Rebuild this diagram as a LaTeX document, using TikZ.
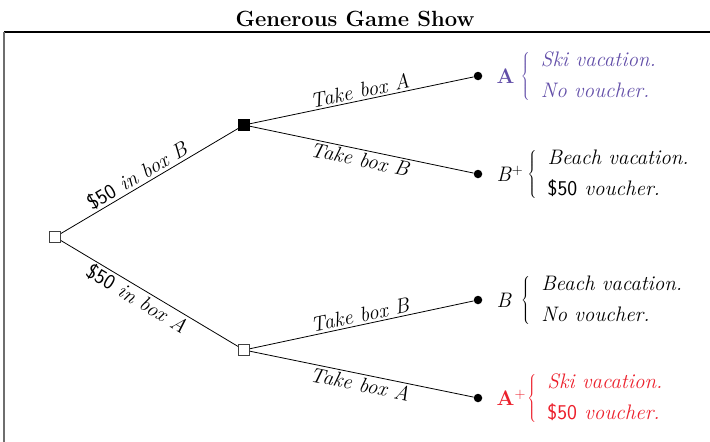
\documentclass[tikz,border=0pt]{standalone}
\usepackage{tikz}
\usetikzlibrary{positioning}
\definecolor{mypurple}{RGB}{98,78,168}
\definecolor{myred}{RGB}{236,32,44}
\definecolor{myframe}{RGB}{110,110,110}
\tikzset{
  opensq/.style={rectangle, draw=black!75, fill=white, minimum size=11pt,
    inner sep=0pt, line width=1pt},
  fullsq/.style={rectangle, draw=black, fill=black, minimum size=11pt,
    inner sep=0pt},
  leaf/.style={circle, fill=black, minimum size=8.5pt, inner sep=0pt},
  branch/.style={line width=0.8pt},
  blabel/.style={font=\fontsize{21}{24}\selectfont\itshape, inner sep=2pt},
  tag/.style={font=\fontsize{21}{24}\selectfont, inner sep=0pt, anchor=west},
  outcome/.style={font=\fontsize{21}{31}\selectfont\itshape, inner sep=0pt, anchor=west}
}
\newcommand{\prize}[2]{$\left\{\vrule height 31pt depth 21pt width 0pt\right.$\begin{tabular}{@{\hspace{10pt}}l@{}}#1\\#2\end{tabular}}
\newcommand{\fifty}{\textsf{\upshape\$50}}

\begin{document}
\begin{tikzpicture}[x=1pt, y=-1pt]
  \useasboundingbox (0,0) rectangle (710,442);
  % ── Title and frame ─────────────────────────────────────────────────────
  \node[font=\fontsize{22}{24}\selectfont\bfseries] (title) at (355,19) {Generous Game Show};
  \draw[line width=1.3pt] (4,32) -- (712,32);
  \draw[line width=1.3pt, color=myframe] (4,32) -- (4,444);

  % ── Decision nodes ──────────────────────────────────────────────────────
  \node[opensq] (root) at (55,237) {};
  \node[fullsq] (up) at (244,125) {};
  \node[opensq] (down) at (244,350) {};

  % ── End points ──────────────────────────────────────────────────────────
  \node[leaf] (aa) at (478,76) {};
  \node[leaf] (bp) at (478,174) {};
  \node[leaf] (bb) at (478,300) {};
  \node[leaf] (ap) at (478,398) {};

  % ── Branches ────────────────────────────────────────────────────────────
  \draw[branch] (root) -- node[blabel, pos=0.46, above, sloped] {\fifty{} in box B} (up);
  \draw[branch] (root) -- node[blabel, pos=0.46, below, sloped] {\fifty{} in box A} (down);
  \draw[branch] (up) -- node[blabel, midway, above, sloped] {Take box A} (aa);
  \draw[branch] (up) -- node[blabel, midway, below, sloped] {Take box B} (bp);
  \draw[branch] (down) -- node[blabel, midway, above, sloped] {Take box B} (bb);
  \draw[branch] (down) -- node[blabel, midway, below, sloped] {Take box A} (ap);

  % ── Outcome tags ────────────────────────────────────────────────────────
  \node[tag, text=mypurple, right=14pt of aa] (taa) {\textbf{A}};
  \node[tag, right=14pt of bp] (tbp) {\textit{B}$^{+}$};
  \node[tag, right=14pt of bb] (tbb) {\textit{B}};
  \node[tag, text=myred, right=14pt of ap] (tap) {\textbf{A}$^{+}$};

  % ── Prizes ──────────────────────────────────────────────────────────────
  \node[outcome, text=mypurple, right=6pt of taa] (paa) {\prize{Ski vacation.}{No voucher.}};
  \node[outcome, right=4pt of tbp] (pbp) {\prize{Beach vacation.}{\fifty{} voucher.}};
  \node[outcome, right=9pt of tbb] (pbb) {\prize{Beach vacation.}{No voucher.}};
  \node[outcome, text=myred, right=1pt of tap] (pap) {\prize{Ski vacation.}{\fifty{} voucher.}};
\end{tikzpicture}
\end{document}
